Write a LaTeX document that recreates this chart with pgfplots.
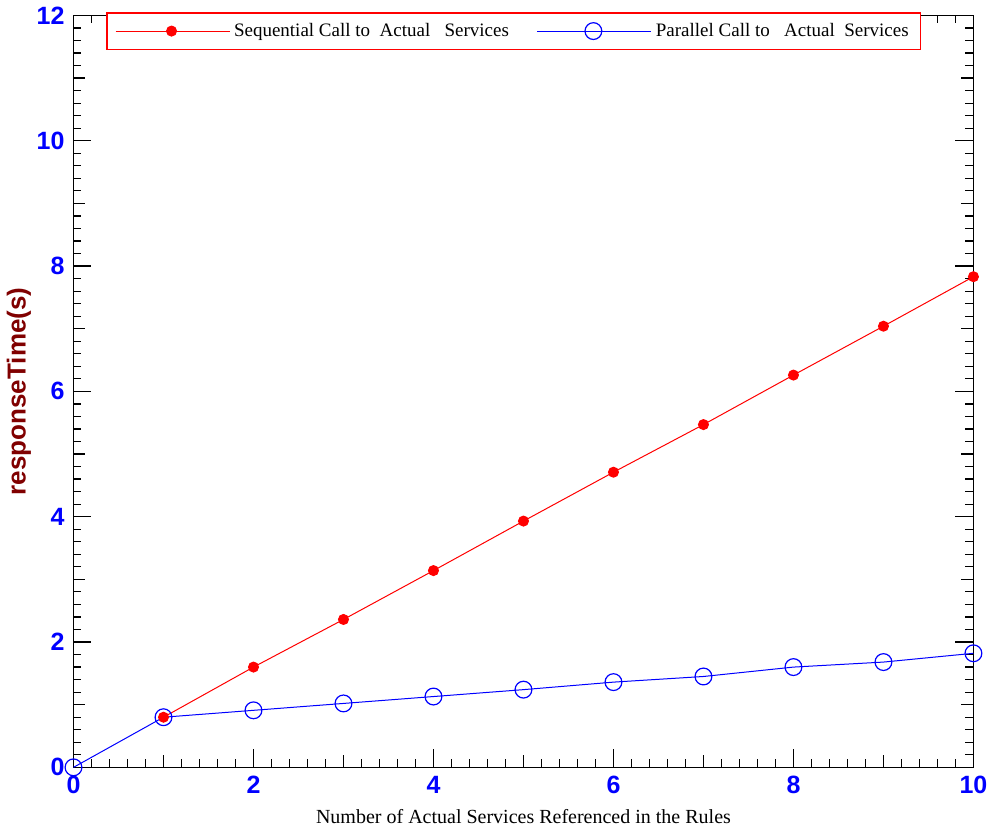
\documentclass[border=0pt]{standalone}
\usepackage{fontspec}
\setmainfont{Liberation Serif}
\newfontfamily\arialf{Liberation Sans}
\usepackage{pgfplots}
\pgfplotsset{compat=1.18}
\begin{document}
\begin{tikzpicture}
\begin{axis}[
  scale only axis,
  width=450pt, height=376pt,
  xmin=0, xmax=10, ymin=0, ymax=12,
  xtick={0,2,...,10}, ytick={0,2,...,12},
  minor tick num=9,
  extra x ticks={1,3,5,7,9}, extra x tick labels={},
  extra y ticks={1,3,5,7,9,11}, extra y tick labels={},
  extra x tick style={major tick length=6pt},
  extra y tick style={major tick length=6pt},
  major tick length=9pt, minor tick length=4pt,
  tick align=inside,
  tick style={black, line width=0.6pt},
  axis line style={line width=0.8pt},
  /pgf/number format/assume math mode=true,
  ticklabel style={font=\arialf\bfseries\fontsize{12.5}{13}\selectfont, text=blue},
  xticklabel style={yshift=-1pt},
  yticklabel style={xshift=-1pt},
  xlabel={Number of Actual Services Referenced in the Rules},
  xlabel style={font=\fontsize{10}{12}\selectfont, yshift=-1pt},
  ylabel={responseTime(s)},
  ylabel style={font=\arialf\bfseries\fontsize{13}{14}\selectfont, text={rgb,255:red,128;green,0;blue,0}, yshift=-4pt},
  clip=false,
  legend columns=2,
  legend style={at={(0.0366,1.004)}, anchor=north west, draw=red, line width=0.6pt,
    font=\fontsize{9.5}{11}\selectfont, inner xsep=4pt, inner ysep=3pt,
    /tikz/every even column/.append style={column sep=12pt}},
  legend image code/.code={\draw[mark repeat=2,mark phase=2] plot coordinates {(0pt,0pt) (28pt,0pt) (57pt,0pt)};},
]
\addplot[red, line width=0.5pt, mark=*, mark size=2.5pt, mark options={fill=red}]
coordinates {(1,0.80) (2,1.60) (3,2.36) (4,3.14) (5,3.93) (6,4.71) (7,5.47) (8,6.26) (9,7.04) (10,7.83)};
\addlegendentry{Sequential Call to\ \ Actual\ \ \ Services}
\addplot[blue, line width=0.5pt, mark=o, mark size=4.2pt, mark options={fill=white, line width=0.6pt}]
coordinates {(0,0) (1,0.80) (2,0.91) (3,1.02) (4,1.13) (5,1.24) (6,1.36) (7,1.45) (8,1.60) (9,1.68) (10,1.82)};
\addlegendentry{Parallel Call to\ \ \ Actual\ \ Services}
\end{axis}
\end{tikzpicture}
\end{document}
